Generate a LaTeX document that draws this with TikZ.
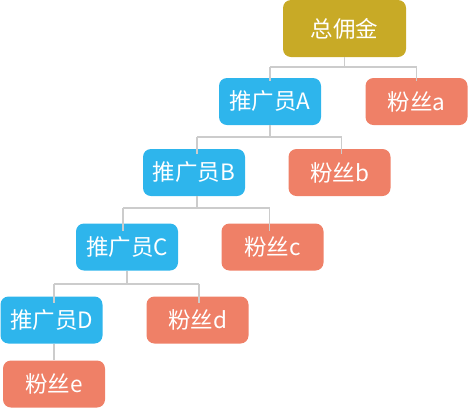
\documentclass[tikz,border=0pt]{standalone}
\usepackage{fontspec}
\newfontfamily\cjk{Noto Sans CJK SC}
\definecolor{gold}{HTML}{C8AA26}
\definecolor{blueb}{HTML}{2EB5EC}
\definecolor{salmon}{HTML}{EF8067}
\definecolor{linegray}{HTML}{CCCCCC}
\begin{document}
\begin{tikzpicture}[x=1pt,y=-1pt,
  box/.style={rounded corners=8pt,inner sep=0pt,text=white,font=\cjk\fontsize{22.5}{26}\selectfont,minimum width=102pt,minimum height=47pt},
  rootbox/.style={box,fill=gold,minimum width=123pt,minimum height=57pt},
  promo/.style={box,fill=blueb},
  fan/.style={box,fill=salmon},
  conn/.style={draw=linegray,line width=1.6pt}]
\useasboundingbox (0,0) rectangle (468,408);
\node[rootbox] (R) at (344.5,28.5) {总佣金};
\node[promo] (A) at (270,101.5) {推广员A};
\node[fan] (a) at (416.5,101.5) {粉丝a};
\node[promo] (B) at (194,172.5) {推广员B};
\node[fan] (b) at (339.5,172.5) {粉丝b};
\node[promo] (C) at (127,247) {推广员C};
\node[fan] (c) at (272.5,247) {粉丝c};
\node[promo] (D) at (51.5,320) {推广员D};
\node[fan] (d) at (197.5,320) {粉丝d};
\node[fan] (e) at (54,384) {粉丝e};
% connectors
\draw[conn] (R.south) -- ++(0,10) coordinate (r1);
\draw[conn] (r1 -| A.north) -- (r1 -| a.north);
\draw[conn] (r1 -| A.north) -- ([yshift=-3]A.north);
\draw[conn] (r1 -| a.north) -- ([yshift=-3]a.north);
%
\draw[conn] (A.south) -- ++(0,12) coordinate (a1);
\draw[conn] ([xshift=3]a1 -| B.north) -- ([xshift=2]a1 -| b.north);
\draw[conn] ([xshift=3]a1 -| B.north) -- ([xshift=3,yshift=-5]B.north);
\draw[conn] ([xshift=2]a1 -| b.north) -- ([xshift=2,yshift=-5]b.north);
%
\draw[conn] ([xshift=3]B.south) -- ++(0,12) coordinate (b1);
\draw[conn] ([xshift=-4]b1 -| C.north) -- ([xshift=-3]b1 -| c.north);
\draw[conn] ([xshift=-4]b1 -| C.north) -- ([xshift=-4,yshift=-8]C.north);
\draw[conn] ([xshift=-3]b1 -| c.north) -- ([xshift=-3,yshift=-8]c.north);
%
\draw[conn] (C.south) -- ++(0,13) coordinate (c1);
\draw[conn] ([xshift=2.5]c1 -| D.north) -- ([xshift=1.5]c1 -| d.north);
\draw[conn] ([xshift=2.5]c1 -| D.north) -- ([xshift=2.5,yshift=-7]D.north);
\draw[conn] ([xshift=1.5]c1 -| d.north) -- ([xshift=1.5,yshift=-7]d.north);
%
\draw[conn] (D.south -| e.north) -- (e.north);
\end{tikzpicture}
\end{document}
